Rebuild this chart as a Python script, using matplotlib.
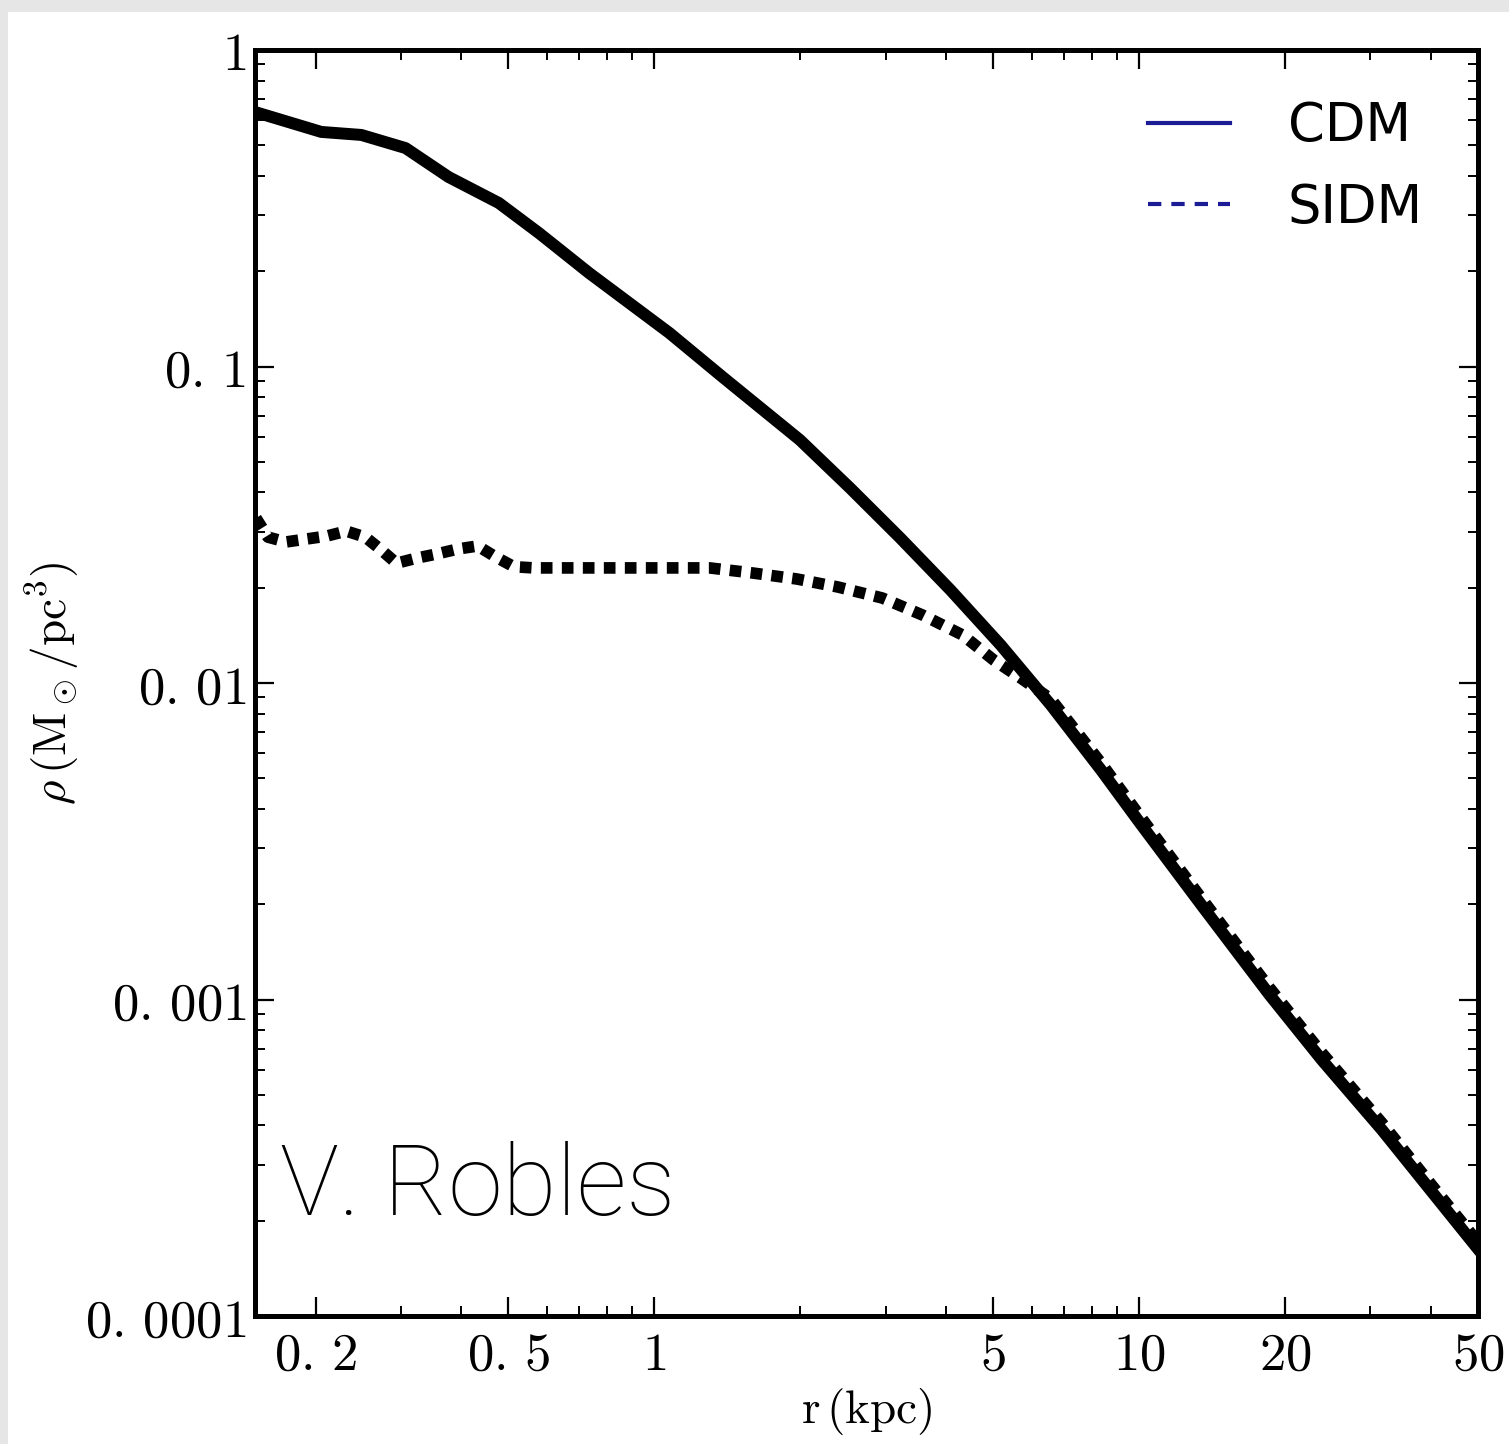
import matplotlib
matplotlib.use("Agg")
import matplotlib.pyplot as plt
from matplotlib.lines import Line2D
from matplotlib.patches import Rectangle
from matplotlib.ticker import FixedLocator, FixedFormatter, NullFormatter

# ---------------- data ----------------
r_cdm = [0.150, 0.2055, 0.2486, 0.3066, 0.3762, 0.4776, 0.578, 0.7334, 1.074, 1.383,
         1.996, 2.533, 3.215, 4.081, 5.180, 6.575, 8.344, 10.0, 13.44, 18.59, 23.82, 31.70,
         40.23, 50.57]
rho_cdm = [0.637, 0.551, 0.539, 0.490, 0.397, 0.3286, 0.264, 0.1974, 0.1276, 0.0926,
           0.0586, 0.0413, 0.02871, 0.01967, 0.01318, 0.00852, 0.00531, 0.00364, 0.001989,
           0.001033, 0.000644, 0.000387, 0.000246, 0.0001593]

r_sidm = [0.1507, 0.1595, 0.1738, 0.1912, 0.2104, 0.2314, 0.2533, 0.2734, 0.2937, 0.3230,
          0.3570, 0.3928, 0.4320, 0.4709, 0.5130, 0.5644, 0.7693, 1.111, 1.300, 1.596,
          1.968, 2.393, 2.951, 3.572, 4.322, 5.01, 5.697, 6.575, 8.344, 10.0, 13.44, 18.59,
          23.82, 31.70, 40.23, 50.57]
rho_sidm = [0.0332, 0.0289, 0.0279, 0.0285, 0.0291, 0.0302, 0.0289, 0.0263, 0.0239, 0.0248,
            0.0256, 0.0265, 0.0271, 0.0250, 0.0233, 0.0231, 0.0231, 0.0231, 0.0231, 0.02226,
            0.02131, 0.02010, 0.01856, 0.01640, 0.01418, 0.01182, 0.01037, 0.00890, 0.00559,
            0.00383, 0.00209, 0.001087, 0.000678, 0.000407, 0.000258, 0.0001676]

series_labels = ["CDM", "SIDM"]
x_major = [0.2, 0.5, 1, 5, 10, 20, 50]
x_major_labels = [r"$0.\,2$", r"$0.\,5$", r"$1$", r"$5$", r"$10$", r"$20$", r"$50$"]
x_minor = [0.3, 0.4, 0.6, 0.7, 0.8, 0.9, 2, 3, 4, 6, 7, 8, 9, 30, 40]
y_major = [1e-4, 1e-3, 1e-2, 1e-1, 1]
y_major_labels = [r"$0.\,0001$", r"$0.\,001$", r"$0.\,01$", r"$0.\,1$", r"$1$"]
y_minor = [m * 10.0 ** e for e in range(-4, 0) for m in range(2, 10)]
xlabel = r"$\mathrm{r\,(kpc)}$"
ylabel = r"$\rho\,(\mathrm{M_\odot/pc^3})$"
credit = "V. Robles"

# ---------------- figure ----------------
plt.rcParams["mathtext.fontset"] = "cm"
W, H = 1509, 1444
fig = plt.figure(figsize=(W / 100, H / 100), dpi=100, facecolor="#e6e6e6")
fig.patches.append(Rectangle((8 / W, 0), 1 - 8 / W, 1 - 12 / H, transform=fig.transFigure,
                             facecolor="white", edgecolor="none", zorder=-10))

ax = fig.add_axes([255 / W, 1 - 1316 / H, (1478 - 255) / W, (1316 - 50) / H])
ax.set_xscale("log")
ax.set_yscale("log")

ax.plot(r_cdm, rho_cdm, color="black", lw=8.6, solid_capstyle="butt", solid_joinstyle="round",
        zorder=3)
ax.plot(r_sidm, rho_sidm, color="black", lw=8.4, linestyle=(0, (1.0, 0.8)),
        dash_capstyle="butt", zorder=3)

ax.set_xlim(0.15, 50)
ax.set_ylim(1e-4, 1)

ax.xaxis.set_major_locator(FixedLocator(x_major))
ax.xaxis.set_major_formatter(FixedFormatter(x_major_labels))
ax.xaxis.set_minor_locator(FixedLocator(x_minor))
ax.xaxis.set_minor_formatter(NullFormatter())
ax.yaxis.set_major_locator(FixedLocator(y_major))
ax.yaxis.set_major_formatter(FixedFormatter(y_major_labels))
ax.yaxis.set_minor_locator(FixedLocator(y_minor))
ax.yaxis.set_minor_formatter(NullFormatter())

ax.tick_params(which="both", direction="in", top=True, right=True, color="black")
ax.tick_params(which="major", length=14, width=1.6, labelsize=38)
ax.tick_params(which="minor", length=7.5, width=1.4)
ax.tick_params(axis="x", which="major", pad=9)
ax.tick_params(axis="y", which="major", pad=6)
for s in ax.spines.values():
    s.set_linewidth(3.6)

ax.set_xlabel(xlabel, fontsize=34, labelpad=4)
ax.set_ylabel(ylabel, fontsize=34, labelpad=2)

handles = [Line2D([], [], color="#1c1c96", lw=3.0),
           Line2D([], [], color="#1c1c96", lw=3.0, linestyle=(0, (3.2, 2.4)))]
ax.legend(handles, series_labels, loc="upper left", bbox_to_anchor=(1148 / W, 1 - 100 / H),
          bbox_transform=fig.transFigure, frameon=False, fontsize=38, borderpad=0,
          borderaxespad=0, handlelength=1.55, handletextpad=1.1, labelspacing=0.56)

ax.text(280 / W, 1 - 1215 / H, credit, transform=fig.transFigure, fontsize=71,
        family=["Roboto", "DejaVu Sans"], fontweight="light", color="black", va="baseline",
        ha="left")

fig.savefig("out.png", dpi=100, facecolor=fig.get_facecolor())
